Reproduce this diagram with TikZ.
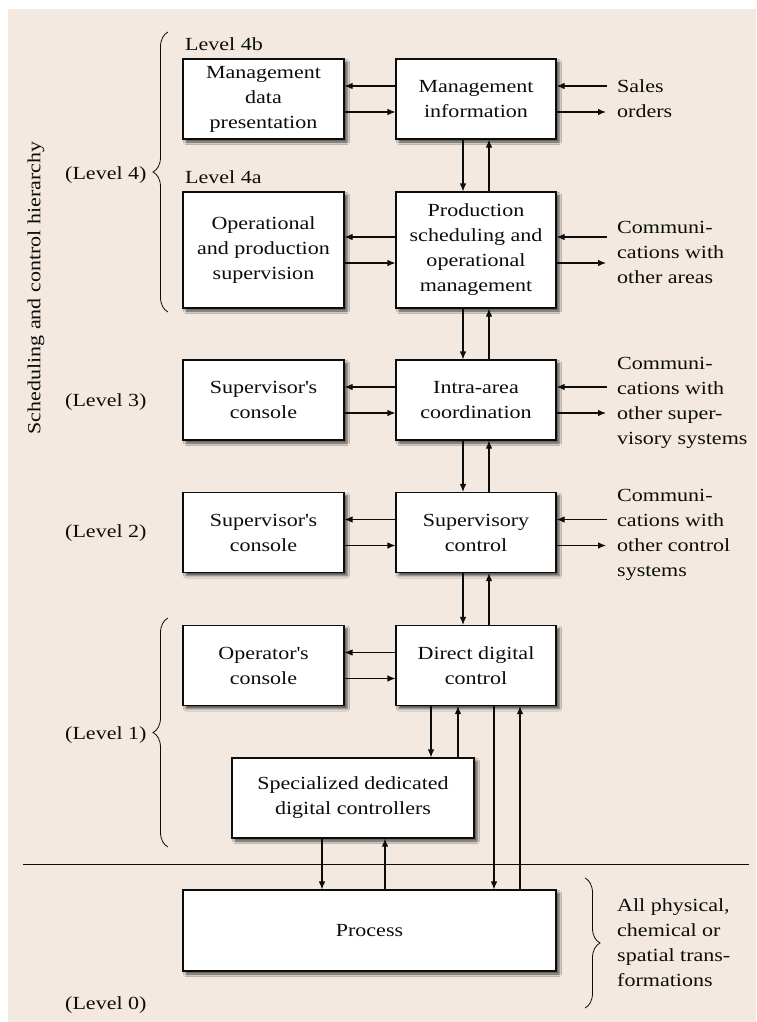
\documentclass[tikz,border=0pt]{standalone}
\usepackage{fontspec}
\setmainfont{Liberation Serif}[FakeStretch=1.19]
\usetikzlibrary{arrows.meta,decorations.pathreplacing,shadows.blur}
\definecolor{paper}{RGB}{243,233,224}
\definecolor{ink}{RGB}{12,12,12}
\tikzset{
  lbl/.style={font=\fontsize{18.5}{25}\selectfont, text=ink, inner sep=0pt},
  side/.style={lbl, anchor=west, align=left},
  blk/.style={lbl, draw=ink, line width=1.1pt, fill=white, align=center,
    blur shadow={shadow xshift=3pt, shadow yshift=-3pt,
                 shadow blur radius=2.5pt, shadow opacity=70}},
  arr/.style={draw=ink, line width=1.1pt, -{Latex[length=8pt,width=6.5pt]}},
  brc/.style={draw=ink, line width=0.8pt, decorate,
    decoration={brace, amplitude=15pt}},
}
\begin{document}
\begin{tikzpicture}[x=1pt, y=-1pt]
  \useasboundingbox (0,0) rectangle (756,1022);
  \fill[paper] (8,9) rectangle (756,1022);

  % level 4b
  \node[blk, minimum width=161pt, minimum height=80pt] (mdp) at (263.5,99)
    {Management\\data\\presentation};
  \node[blk, minimum width=160pt, minimum height=80pt] (mi) at (476,99)
    {Management\\information};
  % level 4a
  \node[blk, minimum width=161pt, minimum height=116pt] (ops) at (263.5,250)
    {Operational\\and production\\supervision};
  \node[blk, minimum width=160pt, minimum height=116pt] (psom) at (476,250)
    {Production\\scheduling and\\operational\\management};
  % level 3
  \node[blk, minimum width=161pt, minimum height=80pt] (sc3) at (263.5,400)
    {Supervisor\textquotesingle s\\console};
  \node[blk, minimum width=160pt, minimum height=80pt] (iac) at (476,400)
    {Intra-area\\coordination};
  % level 2
  \node[blk, minimum width=161pt, minimum height=80pt] (sc2) at (263.5,532.5)
    {Supervisor\textquotesingle s\\console};
  \node[blk, minimum width=160pt, minimum height=80pt] (svc) at (476,532.5)
    {Supervisory\\control};
  % level 1
  \node[blk, minimum width=161pt, minimum height=80pt] (opc) at (263.5,665.5)
    {Operator\textquotesingle s\\console};
  \node[blk, minimum width=160pt, minimum height=80pt] (ddc) at (476,665.5)
    {Direct digital\\control};
  \node[blk, minimum width=242pt, minimum height=80pt] (sdc) at (353,798)
    {Specialized dedicated\\digital controllers};
  % level 0
  \node[blk, minimum width=373pt, minimum height=81pt] (proc) at (369.5,930.5)
    {Process};

  % level captions
  \node[lbl, anchor=west] (l4b) at (185,44) {Level 4b};
  \node[lbl, anchor=west] (l4a) at (185,177) {Level 4a};
  \node[lbl, anchor=west] (lv4) at (65,175) {(Level 4)};
  \node[lbl, anchor=west] (lv3) at (65,402) {(Level 3)};
  \node[lbl, anchor=west] (lv2) at (65,533) {(Level 2)};
  \node[lbl, anchor=west] (lv1) at (65,735) {(Level 1)};
  \node[lbl, anchor=west] (lv0) at (65,1005) {(Level 0)};
  \node[lbl, rotate=90] (hier) at (36,288) {Scheduling and control hierarchy};

  % braces
  \draw[brc] (168,312) -- (168,32);
  \draw[brc] (168,847) -- (168,618);
  \draw[brc] (585,878) -- (585,1008);

  % external connections
  \node[side] (sales) at (617,99) {Sales\\orders};
  \node[side] (com4) at (617,252) {Communi-\\cations with\\other areas};
  \node[side] (com3) at (617,402.5) {Communi-\\cations with\\other super-\\visory systems};
  \node[side] (com2) at (617,534.5) {Communi-\\cations with\\other control\\systems};
  \node[side] (phys) at (617,942.5) {All physical,\\chemical or\\spatial trans-\\formations};

  \foreach \b/\y in {mi/99, psom/250, iac/400, svc/532.5} {
    \coordinate (\b-in)  at (607,\y-13);
    \coordinate (\b-out) at (606,\y+13);
    \draw[arr] (\b-in) -- ([yshift=13pt]\b.east);
    \draw[arr] ([yshift=-13pt]\b.east) -- (\b-out);
  }

  % left consoles <-> central column
  \foreach \l/\r in {mdp/mi, ops/psom, sc3/iac, sc2/svc, opc/ddc} {
    \draw[arr] ([yshift=13pt]\r.west) -- ([yshift=13pt]\l.east);
    \draw[arr] ([yshift=-13pt]\l.east) -- ([yshift=-13pt]\r.west);
  }

  % central column, level to level
  \foreach \u/\d in {mi/psom, psom/iac, iac/svc, svc/ddc} {
    \draw[arr] ([xshift=-13pt]\u.south) -- ([xshift=-13pt]\d.north);
    \draw[arr] ([xshift=13pt]\d.north) -- ([xshift=13pt]\u.south);
  }

  % direct digital control to dedicated controllers and process
  \draw[arr] ([xshift=-45pt]ddc.south) -- ([xshift=-45pt]ddc.south |- sdc.north);
  \draw[arr] ([xshift=-18pt]ddc.south |- sdc.north) -- ([xshift=-18pt]ddc.south);
  \draw[arr] ([xshift=18pt]ddc.south) -- ([xshift=18pt]ddc.south |- proc.north);
  \draw[arr] ([xshift=44pt]ddc.south |- proc.north) -- ([xshift=44pt]ddc.south);

  % dedicated controllers to process
  \draw[arr] ([xshift=-31pt]sdc.south) -- ([xshift=-31pt]sdc.south |- proc.north);
  \draw[arr] ([xshift=32pt]sdc.south |- proc.north) -- ([xshift=32pt]sdc.south);

  % boundary between control and process
  \draw[draw=ink, line width=1pt] (23,864) -- (749,864);
\end{tikzpicture}
\end{document}
